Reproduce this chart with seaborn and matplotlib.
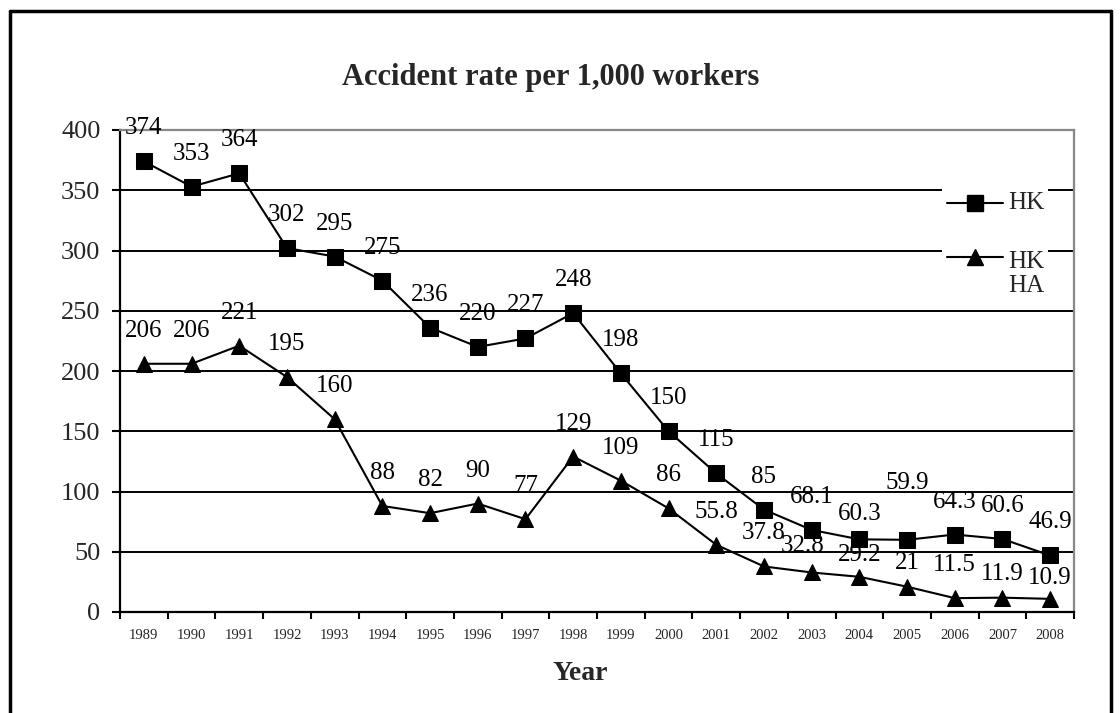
import matplotlib
matplotlib.use("Agg")
import matplotlib.pyplot as plt
from matplotlib.lines import Line2D
from matplotlib.patches import Rectangle
import numpy as np
import pandas as pd
import seaborn as sns

years = [str(y) for y in range(1989, 2009)]
hk = [374, 353, 364, 302, 295, 275, 236, 220, 227, 248, 198, 150, 115, 85, 68.1, 60.3, 59.9, 64.3, 60.6, 46.9]
hkha = [206, 206, 221, 195, 160, 88, 82, 90, 77, 129, 109, 86, 55.8, 37.8, 32.8, 29.2, 21, 11.5, 11.9, 10.9]
hk_labels = ["374", "353", "364", "302", "295", "275", "236", "220", "227", "248", "198", "150", "115", "85",
             "68.1", "60.3", "59.9", "64.3", "60.6", "46.9"]
hkha_labels = ["206", "206", "221", "195", "160", "88", "82", "90", "77", "129", "109", "86", "55.8", "37.8",
               "32.8", "29.2", "21", "11.5", "11.9", "10.9"]
series_names = ["HK", "HK\nHA"]
yticks = [0, 50, 100, 150, 200, 250, 300, 350, 400]

# label placement (pixels above point centre); default 35
hk_label_dy = {15: 27, 16: 59}
hkha_label_dy = {14: 28, 15: 24, 16: 26, 18: 26, 19: 23}
hkha_label_dx = {14: -9}

sns.set_theme(style="white")
plt.rcParams['font.family'] = ['Liberation Serif', 'DejaVu Serif']

W, H = 1120, 713
fig = plt.figure(figsize=(W / 100, H / 100), dpi=100)
ax = fig.add_axes([120 / W, (H - 612) / H, (1074 - 120) / W, (612 - 130) / H])

df = pd.DataFrame({
    "pos": list(range(len(years))) * 2,
    "value": hk + hkha,
    "series": [series_names[0]] * len(years) + [series_names[1]] * len(years),
})

for y in yticks[1:-1]:
    ax.axhline(y, color="black", lw=1.4, zorder=1)

sns.lineplot(data=df, x="pos", y="value", hue="series", style="series",
             markers={series_names[0]: "s", series_names[1]: "^"}, dashes=False,
             palette=["black", "black"], markersize=12, linewidth=1.5,
             markeredgecolor="black", ax=ax, legend=False, zorder=3)

for i, (v, t) in enumerate(zip(hk, hk_labels)):
    dy = hk_label_dy.get(i, 35) - 8
    ax.annotate(t, (i, v), xytext=(0, dy), textcoords="offset pixels", ha="center", va="baseline",
                fontsize=18, color="black", annotation_clip=False, zorder=4)
for i, (v, t) in enumerate(zip(hkha, hkha_labels)):
    dy = hkha_label_dy.get(i, 35) - 8
    dx = hkha_label_dx.get(i, 0)
    ax.annotate(t, (i, v), xytext=(dx, dy), textcoords="offset pixels", ha="center", va="baseline",
                fontsize=18, color="black", annotation_clip=False, zorder=4)

ax.set_xlim(-0.5, len(years) - 0.5)
ax.set_ylim(0, 400)
ax.set_yticks(yticks)
ax.set_yticklabels([str(v) for v in yticks], fontsize=19)
ax.set_xticks(np.arange(-0.5, len(years), 1))
ax.set_xticklabels([])
ax.set_xticks(range(len(years)), minor=True)
ax.set_xticklabels(years, minor=True, fontsize=10.5)
ax.tick_params(axis="y", which="major", direction="out", length=6, width=1.5, color="black", pad=8, left=True)
ax.tick_params(axis="x", which="major", direction="out", length=5, width=1.5, color="black", bottom=True)
ax.tick_params(axis="x", which="minor", length=0, pad=12)
ax.set_xlabel("Year", fontsize=20, fontweight="bold")
ax.xaxis.set_label_coords(580 / W, 1 - 673 / H, transform=fig.transFigure)
ax.xaxis.label.set_va("center")
ax.set_ylabel("")

for s in ["left", "bottom"]:
    ax.spines[s].set_color("black")
    ax.spines[s].set_linewidth(1.6)
for s in ["top", "right"]:
    ax.spines[s].set_color("#888888")
    ax.spines[s].set_linewidth(1.6)
ax.set_facecolor("white")

# legend (drawn in figure pixels so the triangle sits beside the first line of "HK / HA")
def fx(px):
    return px / W

def fy(py):
    return 1 - py / H

fig.add_artist(Rectangle((fx(942), fy(300)), fx(1048) - fx(942), fy(175) - fy(300),
                         transform=fig.transFigure, facecolor="white", edgecolor="none", zorder=5))
for (marker, yc, label, ytext) in [("s", 203, series_names[0], 203), ("^", 257, series_names[1], 274)]:
    fig.add_artist(Line2D([fx(947), fx(1003)], [fy(yc), fy(yc)], color="black", lw=1.5,
                          transform=fig.transFigure, zorder=6))
    fig.add_artist(Line2D([fx(975)], [fy(yc)], color="black", marker=marker, markersize=12, lw=0,
                          transform=fig.transFigure, zorder=6))
    fig.text(fx(1008), fy(ytext), label, ha="left", va="center", fontsize=18, linespacing=1.15, zorder=6)

fig.text(551 / W, 1 - 77 / H, "Accident rate per 1,000 workers", ha="center", va="center",
         fontsize=22, fontweight="bold")

# outer border (bottom edge lies outside the image)
for xs, ys in [([10, 10], [H + 5, 11]), ([10, 1111], [11, 11]), ([1111, 1111], [11, H + 5])]:
    fig.add_artist(Line2D([x / W for x in xs], [1 - y / H for y in ys], color="black", lw=2.5,
                          transform=fig.transFigure))

fig.savefig("out.png", dpi=100, facecolor="white")
